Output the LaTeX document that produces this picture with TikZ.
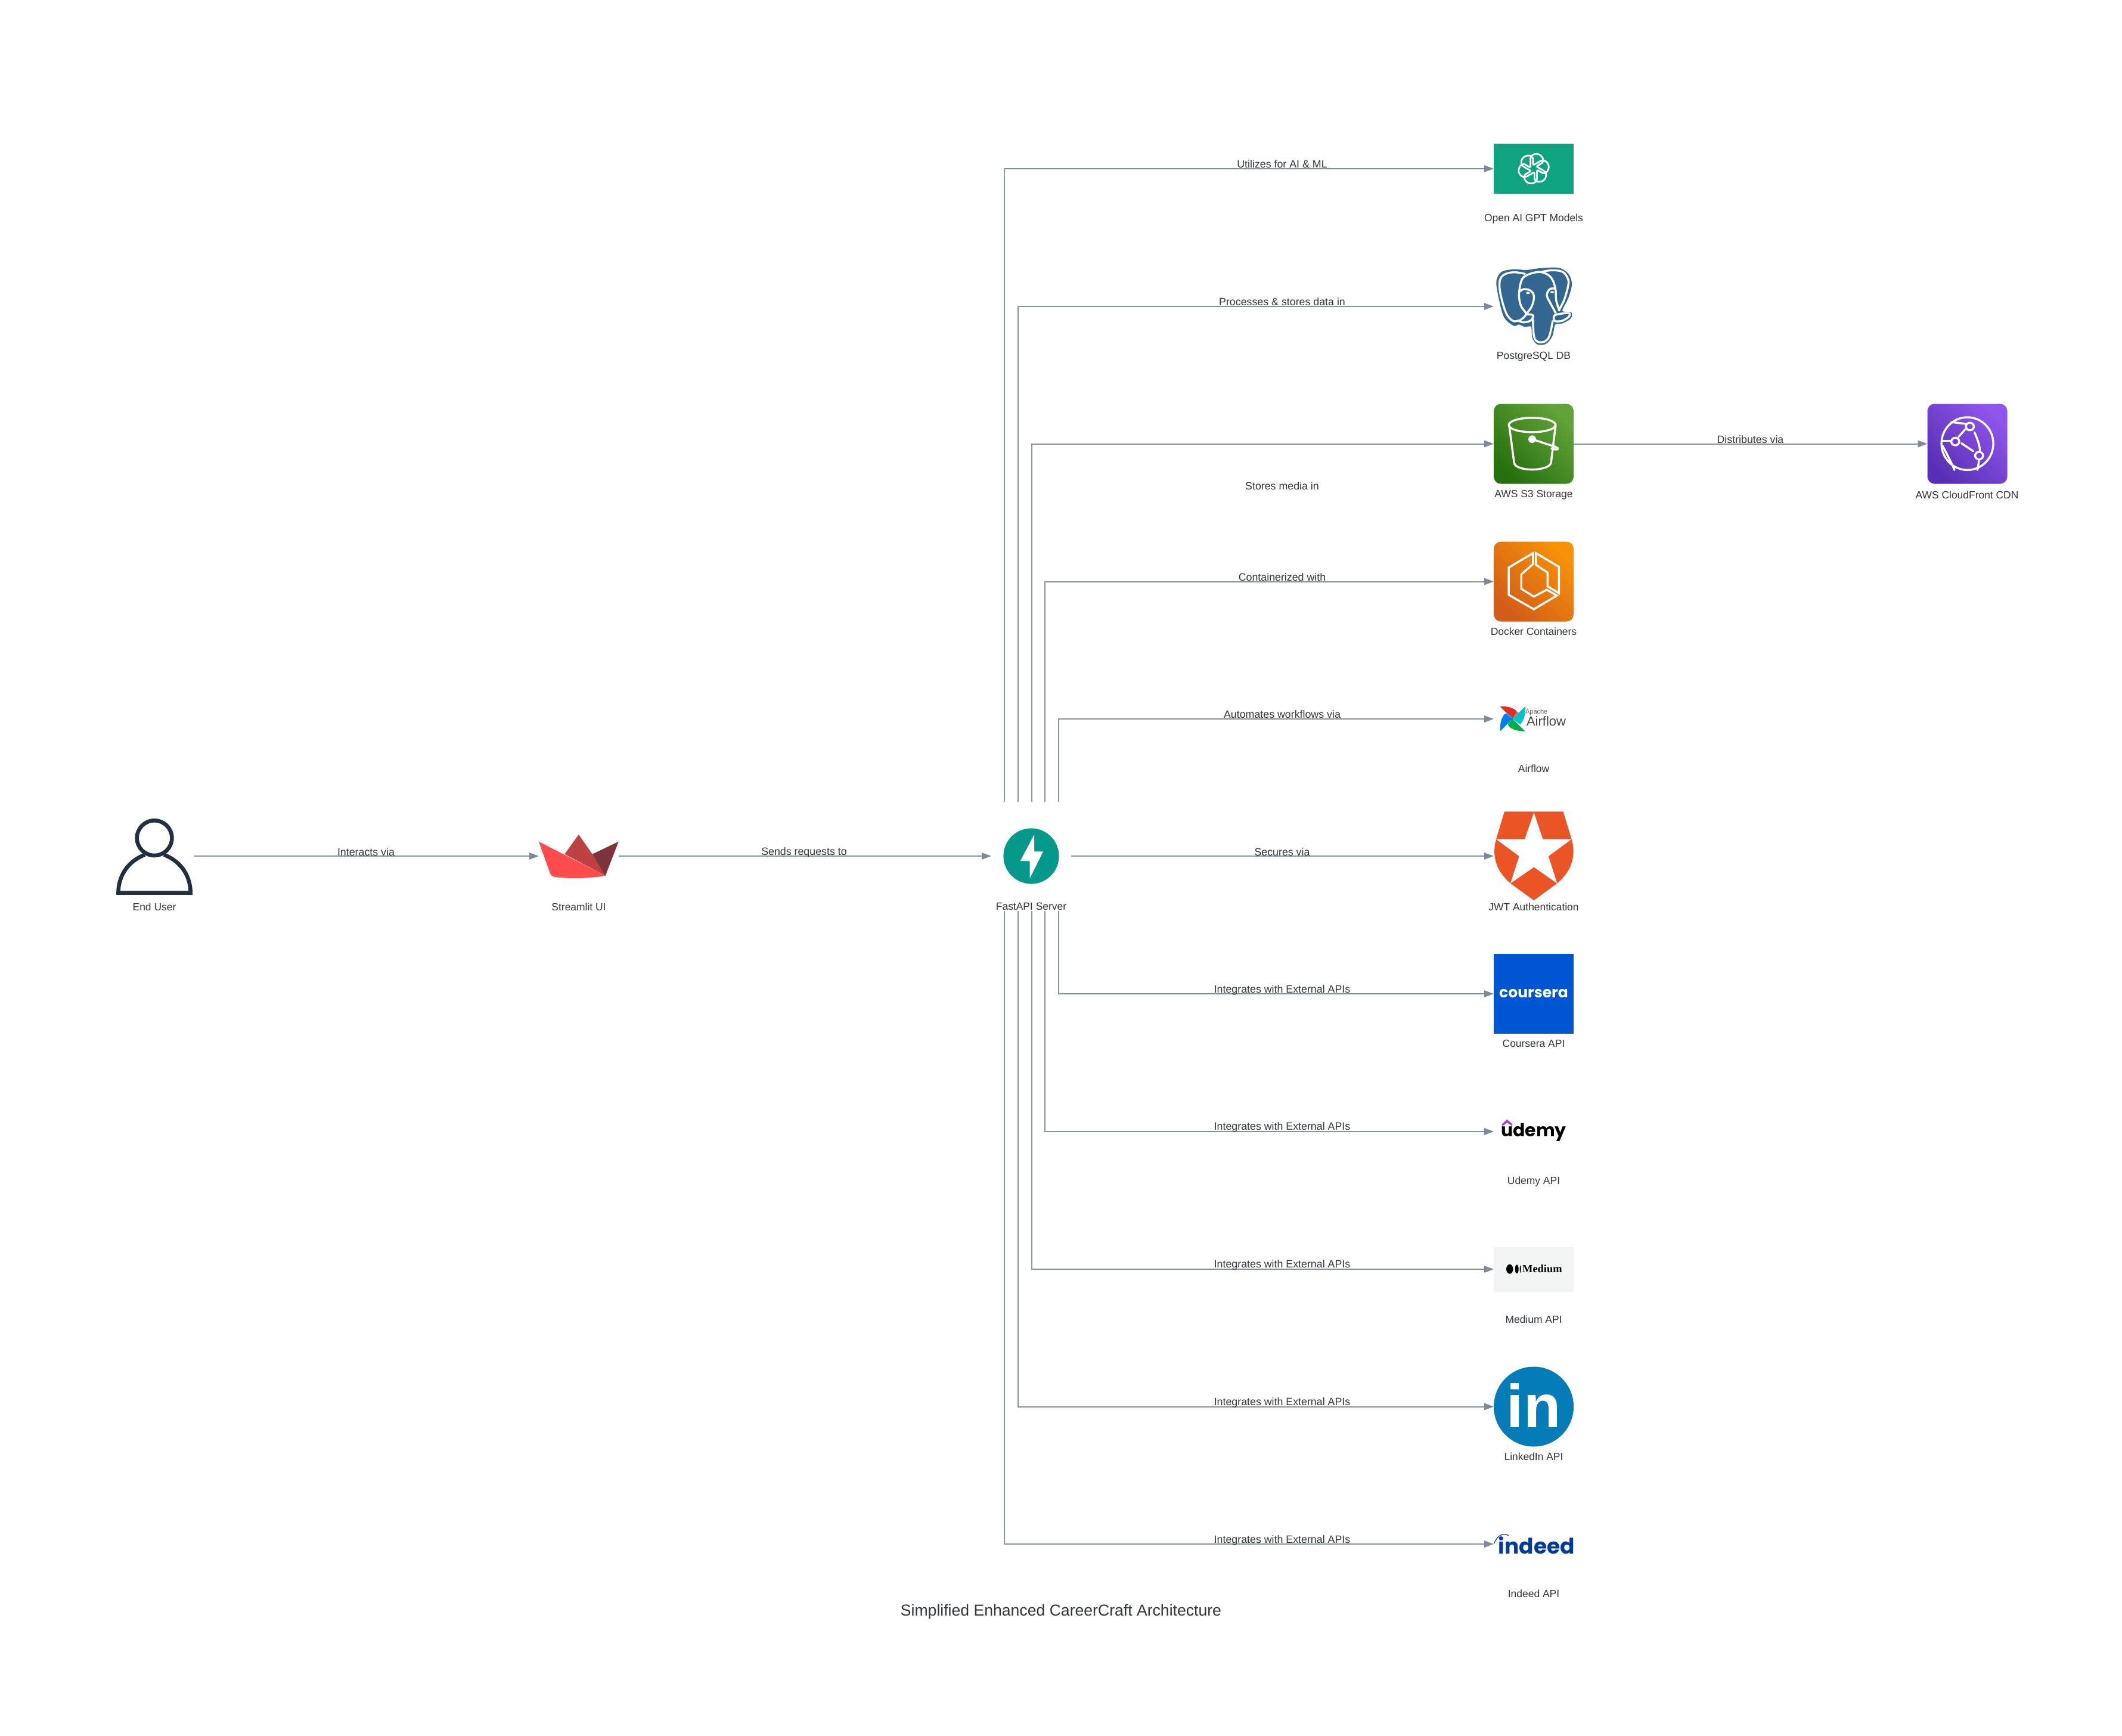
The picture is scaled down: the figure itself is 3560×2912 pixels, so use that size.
\documentclass[tikz,border=0pt]{standalone}
\usepackage{fontspec}
\setmainfont{Liberation Sans}
\newfontfamily\popfont{Poppins}
\newfontfamily\medfont{Liberation Serif}
\usetikzlibrary{arrows.meta,shadings}
\definecolor{edgec}{HTML}{8592A1}
\definecolor{tipc}{HTML}{7C8997}
\definecolor{textc}{HTML}{30363A}
\definecolor{awsink}{HTML}{232F3E}
\definecolor{pgblue}{HTML}{336791}
\definecolor{sA}{HTML}{27700F}\definecolor{sB}{HTML}{62A338}
\definecolor{cA}{HTML}{5830B5}\definecolor{cB}{HTML}{9055EC}
\definecolor{dA}{HTML}{D25C1A}\definecolor{dB}{HTML}{F79106}
\definecolor{oaic}{HTML}{10A37F}
\definecolor{courc}{HTML}{0056D2}
\definecolor{medc}{HTML}{F3F4F4}
\definecolor{linc}{HTML}{037CB7}
\definecolor{fastc}{HTML}{05998B}
\definecolor{indc}{HTML}{003A9B}
\definecolor{udc}{HTML}{A435F0}
\definecolor{authc}{HTML}{EB5424}
\definecolor{stA}{HTML}{BD4043}\definecolor{stB}{HTML}{7D353B}\definecolor{stC}{HTML}{FF4B4B}
\tikzset{
 x=0.5pt,y=-0.5pt,
 edge/.style={draw=edgec,line width=1pt,-{Triangle[length=8pt,width=5.6pt,color=tipc]}},
 edgelabel/.style={font=\fontsize{8.9}{10}\selectfont,text=textc,inner sep=0pt},
 nodelabel/.style={font=\fontsize{8.72}{10}\selectfont,text=textc,inner sep=0pt,yshift=-.4pt},
 iconbox/.style={rectangle,inner sep=0pt,outer sep=0pt,minimum width=67pt,minimum height=#1},
 iconbox/.default=67pt,
 awsbox/.style 2 args={iconbox,rounded corners=6pt,shade,bottom color=#1,top color=#2,shading angle=-45},
 whiteline/.style={draw=white,line width=1.7pt,line join=round,line cap=round},
 zA/.style={shift={(2400,200)},x=.3507pt,y=-.287pt},
 zB/.style={shift={(2400,1130)},x=.16667pt,y=-.2232pt},
 zC/.style={shift={(2400,1840)},x=.16667pt,y=-.287pt},
 zD/.style={shift={(150,1330)},x=.3189pt,y=-.16667pt},
 zE/.style={shift={(1620,1300)},x=.16667pt,y=-.16667pt},
 zF/.style={shift={(2480,430)},x=.16667pt,y=-.16667pt},
 zG/.style={shift={(2480,1160)},x=.16667pt,y=-.16667pt},
}
\begin{document}
\begin{tikzpicture}
\useasboundingbox (0,0) rectangle (3560,2912);
\fill[white] (0,0) rectangle (3560,2912);

% icon boxes
\node[iconbox=42pt,fill=oaic] (openai) at (2573,283) {};
\node[iconbox] (pg) at (2573,514) {};
\node[awsbox={sA}{sB}] (s3) at (2573,744.5) {};
\node[awsbox={cA}{cB}] (cdn) at (3300.5,744.5) {};
\node[awsbox={dA}{dB}] (docker) at (2573,975.5) {};
\node[iconbox=30pt] (airflow) at (2573,1206) {};
\node[iconbox] (jwt) at (2573,1436) {};
\node[iconbox,fill=courc] (coursera) at (2573,1667) {};
\node[iconbox=30pt] (udemy) at (2573,1898) {};
\node[iconbox=37.5pt,fill=medc] (medium) at (2573,2129) {};
\node[circle,inner sep=0pt,outer sep=0pt,minimum size=67pt,fill=linc] (linkedin) at (2573,2359.5) {};
\node[iconbox=30pt] (indeed) at (2573,2590) {};
\node[circle,inner sep=0pt,outer sep=0pt,minimum size=46.6pt,fill=fastc] (fast) at (1730,1436) {};
\node[rectangle,inner sep=0pt,outer sep=0pt,minimum width=67pt,minimum height=50pt] (streamlit) at (971,1436) {};
\node[rectangle,inner sep=0pt,outer sep=0pt,minimum width=63pt,minimum height=50pt] (user) at (259,1436) {};

% free ends of the connectors
\coordinate (inFast) at (1663,1436);
\coordinate (outFast) at (1797,1436);
\coordinate (uOut) at (326,1436);
\coordinate (t1) at (1685,1345);
\coordinate (t2) at (1708,1345);
\coordinate (t3) at (1730.7,1345);
\coordinate (t4) at (1753,1345);
\coordinate (t5) at (1776,1345);
\coordinate (b1) at (1776,1528);
\coordinate (b2) at (1753,1528);
\coordinate (b3) at (1730.7,1528);
\coordinate (b4) at (1708,1528);
\coordinate (b5) at (1685,1528);

% connectors
\draw[edge] (uOut) -- (streamlit.west);
\draw[edge] (streamlit.east) -- (inFast);
\draw[edge] (outFast) -- (jwt.west);
\draw[edge] (t1) |- (openai.west);
\draw[edge] (t2) |- (pg.west);
\draw[edge] (t3) |- (s3.west);
\draw[edge] (t4) |- (docker.west);
\draw[edge] (t5) |- (airflow.west);
\draw[edge] (b1) |- (coursera.west);
\draw[edge] (b2) |- (udemy.west);
\draw[edge] (b3) |- (medium.west);
\draw[edge] (b4) |- (linkedin.west);
\draw[edge] (b5) |- (indeed.west);
\draw[edge] (s3.east) -- (cdn.west);

% edge labels
\node[edgelabel] (l1) at (614,1429) {Interacts via};
\node[edgelabel] (l2) at (1349,1430) {Sends requests to};
\node[edgelabel] (l3) at (2151,1429) {Secures via};
\node[edgelabel] (l4) at (2151,275) {Utilizes for AI \& ML};
\node[edgelabel] (l5) at (2151,506) {Processes \& stores data in};
\node[edgelabel] (l6) at (2151,815) {Stores media in};
\node[edgelabel] (l7) at (2151,968) {Containerized with};
\node[edgelabel] (l8) at (2151,1198) {Automates workflows via};
\node[edgelabel] (l9) at (2151,1660.5) {Integrates with External APIs};
\node[edgelabel] (l10) at (2151,1891) {Integrates with External APIs};
\node[edgelabel] (l11) at (2151,2122) {Integrates with External APIs};
\node[edgelabel] (l12) at (2151,2353) {Integrates with External APIs};
\node[edgelabel] (l13) at (2151,2584) {Integrates with External APIs};
\node[edgelabel] (l14) at (2936.5,737) {Distributes via};

% node labels
\node[nodelabel] (n1) at (259,1520) {End User};
\node[nodelabel] (n2) at (971,1520) {Streamlit UI};
\node[nodelabel] (n3) at (1730,1520) {FastAPI Server};
\node[nodelabel] (n4) at (2573,366) {Open AI GPT Models};
\node[nodelabel] (n5) at (2573,597) {PostgreSQL DB};
\node[nodelabel] (n6) at (2573,829) {AWS S3 Storage};
\node[nodelabel] (n7) at (3300,829) {AWS CloudFront CDN};
\node[nodelabel] (n8) at (2573,1058) {Docker Containers};
\node[nodelabel] (n9) at (2573,1288) {Airflow};
\node[nodelabel] (n10) at (2573,1520) {JWT Authentication};
\node[nodelabel] (n11) at (2573,1750) {Coursera API};
\node[nodelabel] (n12) at (2573,1981) {Udemy API};
\node[nodelabel] (n13) at (2573,2212) {Medium API};
\node[nodelabel] (n14) at (2573,2442) {LinkedIn API};
\node[nodelabel] (n15) at (2573,2672) {Indeed API};
\node[font=\fontsize{13.3}{15}\selectfont,text=textc,inner sep=0pt] (title) at (1780,2704) {Simplified Enhanced CareerCraft Architecture};

% End User icon
\begin{scope}[zD]
\draw[awsink,line width=3.3pt] (171,227) ellipse [x radius=46,y radius=88];
\draw[awsink,line width=3.3pt,line join=miter] (146,311) .. controls (100,345) and (76,420) .. (76,503) -- (266,503) .. controls (266,420) and (242,345) .. (196,311);
% Streamlit icon
\fill[stA] (1250,308) -- (1287,210) -- (1323,308) -- (1357,416) -- cycle;
\fill[stB] (1323,308) -- (1392,245) -- (1357,418) -- cycle;
\fill[stC] (1182,245) -- (1357,416) .. controls (1320,432) and (1250,432) .. (1222,422) .. controls (1215,418) and (1213,412) .. (1212,405) -- cycle;
\end{scope}

% FastAPI bolt
\begin{scope}[zE]
\fill[white] (345,300) -- (345,385) -- (390,385) -- (323,520) -- (323,433) -- (275,433) -- cycle;
\end{scope}

% OpenAI knot
\begin{scope}[shift={(2573,283)}]
\foreach \a in {0,60,...,300}{
 \begin{scope}[rotate=\a]
 \draw[white,line width=1.4pt,line cap=round,line join=round]
   (-5.5,-3.2) -- (-5.5,-16) .. controls (-5.5,-25) and (7,-28) .. (13,-21) .. controls (17,-16.5) and (16.5,-12) .. (14,-9.5) -- (5.5,-4.5);
 \end{scope}}
\end{scope}

% PostgreSQL elephant
\begin{scope}[zF]
\draw[fill=pgblue,draw=pgblue,line width=1pt] plot[smooth cycle,tension=.55] coordinates {(300,64) (400,60) (450,88) (468,140) (450,210) (420,275) (466,285) (462,312) (420,335) (385,342) (370,400) (340,437) (300,441) (275,410) (268,352) (235,352) (205,340) (178,346) (130,300) (100,180) (95,120) (120,80) (180,68) (240,72)};
\draw[whiteline] plot[smooth,tension=.6] coordinates {(205,322) (175,325) (140,285) (112,190) (108,125) (130,92) (180,80) (235,88)};
\draw[whiteline] plot[smooth,tension=.6] coordinates {(210,150) (225,108) (270,85) (320,80) (365,105) (388,160) (392,220) (408,272)};
\draw[whiteline] plot[smooth,tension=.6] coordinates {(320,78) (370,70) (425,78) (452,115) (452,150) (432,220) (405,272)};
\draw[whiteline] plot[smooth,tension=.6] coordinates {(210,150) (205,200) (215,250) (240,292) (205,325)};
\draw[whiteline] plot[smooth,tension=.6] coordinates {(240,292) (270,250) (280,200) (262,172) (230,165) (212,175)};
\draw[whiteline] plot[smooth,tension=.6] coordinates {(388,162) (360,165) (345,195) (360,230) (390,285)};
\draw[whiteline] plot[smooth cycle,tension=.5] coordinates {(385,296) (455,285) (455,305) (420,325) (385,325)};
\draw[whiteline] plot[smooth,tension=.6] coordinates {(205,325) (230,332) (265,322) (275,296) (240,292)};
\draw[whiteline] plot[smooth,tension=.6] coordinates {(275,305) (280,400) (300,430) (335,428) (358,400) (375,325)};
\fill[white] (250,184) ellipse [x radius=10,y radius=6];
\fill[white] (372,180) ellipse [x radius=10,y radius=5];
\end{scope}

% S3 bucket and CloudFront and ECS
\begin{scope}[zA]
\draw[whiteline] (243,893.5) ellipse [x radius=56,y radius=21];
\draw[whiteline] (188,895) -- (200,1005) .. controls (205,1030) and (280,1030) .. (288,1005) -- (299,895);
\draw[whiteline] (243,935) -- (300,958) .. controls (312,965) and (300,968) .. (289,962);
\fill[white] (243,935) circle [radius=3.2pt];
% CloudFront
\draw[whiteline] (1284,948) ellipse [x radius=62,y radius=77];
\foreach \p in {(1290,898),(1255,942),(1312,983)}{\draw[whiteline] \p ellipse [x radius=9.5,y radius=11];}
\draw[whiteline] (1279,906) -- (1263,928);
\draw[whiteline] (1270,947) -- (1298,970);
\draw[whiteline] (1301,915) .. controls (1308,935) and (1313,950) .. (1314,968);
\draw[whiteline] (1225,940) -- (1244,940);
\draw[whiteline] (1225,955) .. controls (1240,990) and (1250,1015) .. (1253,1025);
\draw[whiteline] (1245,885) -- (1280,890);
\draw[whiteline] (1312,997) -- (1308,1025);
% ECS
\draw[whiteline,line join=miter] (245,1268) -- (187,1310) -- (187,1390) -- (247,1432) -- (302,1392) -- (278,1375) -- (247,1395) -- (217,1372) -- (217,1330) -- (245,1300) -- cycle;
\draw[whiteline,line join=miter] (252,1268) -- (307,1308) -- (307,1385) -- (280,1365) -- (280,1325) -- (252,1302) -- cycle;
\end{scope}

% Airflow logo
\definecolor{afA}{HTML}{E42C24}\definecolor{afB}{HTML}{FF6955}\definecolor{afC}{HTML}{00C3D2}
\definecolor{afD}{HTML}{00AC46}\definecolor{afE}{HTML}{00D06E}\definecolor{afF}{HTML}{017CEE}\definecolor{afG}{HTML}{00ADEF}
\begin{scope}[zG]
\fill[afA] (110,75) .. controls (150,72) and (185,85) .. (195,102) -- (172,137) -- cycle;
\fill[afB] (195,102) .. controls (215,110) and (222,118) .. (225,127) -- (172,137) -- cycle;
\fill[afC] (236,75) .. controls (238,120) and (228,150) .. (210,165) -- (172,137) -- cycle;
\fill[afD] (236,200) .. controls (200,200) and (160,190) .. (150,168) -- (172,137) -- cycle;
\fill[afE] (150,168) .. controls (147,155) and (150,145) .. (172,137) -- cycle;
\fill[afF] (110,200) .. controls (108,160) and (118,125) .. (137,110) -- (172,137) -- cycle;
\fill[afG] (137,110) .. controls (150,108) and (165,120) .. (172,137) -- cycle;
\node[font=\fontsize{5.5}{6}\selectfont,text=black!65,inner sep=0pt] (aflogoa) at (293,103) {Apache};
\node[font=\fontsize{11}{12}\selectfont,text=black!72,inner sep=0pt] (aflogob) at (342,150) {Airflow};
\end{scope}

% Auth0 shield
\begin{scope}[zB]
\fill[authc] (372,518) -- (667,518) -- (710,622) .. controls (735,690) and (705,745) .. (637,788) -- (520,852) -- (402,788) .. controls (335,745) and (305,690) .. (330,622) -- cycle;
\fill[white] (520,522) -- (565,622) -- (710,622) -- (593,686) -- (637,788) -- (520,727) -- (402,788) -- (446,686) -- (330,622) -- (474,622) -- cycle;
\end{scope}

% wordmarks
\node[font=\popfont\bfseries\fontsize{12.5}{14}\selectfont,text=white,inner sep=0pt] (courseralogo) at (2573,1667) {coursera};
\node[font=\popfont\bfseries\fontsize{15}{17}\selectfont,text=black,inner sep=0pt] (udemylogo) at (2573,1899) {udemy};
\begin{scope}[zC]
\fill[udc] (360,79) -- (385,66) -- (411,79) -- (411,85) -- (385,75) -- (360,85) -- cycle;
\fill[black] (398,503) ellipse [x radius=17,y radius=14];
\fill[black] (434,503) ellipse [x radius=9,y radius=13];
\fill[black] (452,503) ellipse [x radius=3,y radius=11];
\node[font=\medfont\bfseries\fontsize{9.2}{11}\selectfont,text=black,inner sep=0pt] (mediumlogo) at (562,502) {Medium};
\draw[indc,line width=.6pt] (319,1306) .. controls (335,1280) and (370,1272) .. (392,1282);
\end{scope}
\node[font=\fontsize{51}{52}\selectfont\bfseries,text=white,inner sep=0pt] (inlogo) at (2573,2358) {in};
\node[font=\popfont\bfseries\fontsize{18}{20}\selectfont,text=indc,inner sep=0pt] (indeedlogo) at (2578,2592) {indeed};
\end{tikzpicture}
\end{document}
